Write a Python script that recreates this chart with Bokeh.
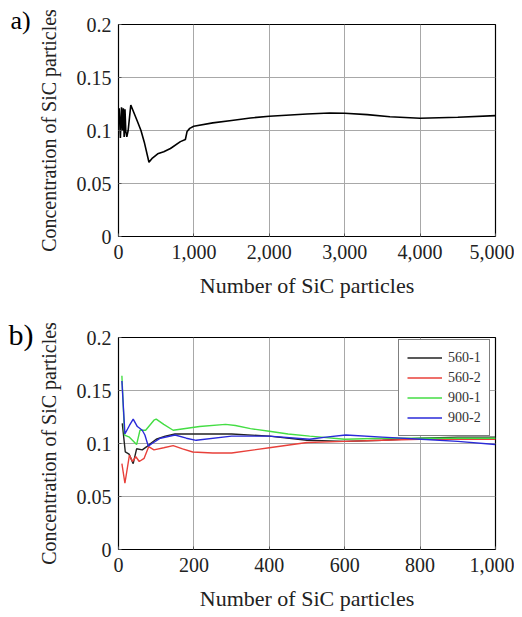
from bokeh.plotting import figure
from bokeh.layouts import column
from bokeh.models import Legend, LegendItem, FixedTicker, Range1d, Title
from bokeh.embed import file_html
from bokeh.resources import INLINE

# ---- data (a) ----
a_x = [9, 25, 40, 53, 64, 75, 86, 97, 110, 128, 163, 254, 298, 342, 404, 450, 520,
       600, 689, 821, 887, 909, 945, 998, 1250, 1500, 1750, 2000, 2500, 2800, 3000,
       3300, 3600, 4000, 4500, 5000]
a_y = [0.121, 0.093, 0.122, 0.100, 0.121, 0.094, 0.120, 0.099, 0.094, 0.100, 0.124,
       0.108, 0.100, 0.089, 0.070, 0.074, 0.078, 0.080, 0.083, 0.0895, 0.0915, 0.099,
       0.102, 0.104, 0.1072, 0.1095, 0.1118, 0.1135, 0.1155, 0.1165, 0.1163, 0.115, 0.113,
       0.1115, 0.1125, 0.114]

# ---- data (b) ----
black_x = [10, 18, 28, 39, 48, 63, 75, 85, 100, 124, 150, 200, 300, 400, 500, 600, 700, 800, 900, 1000]
black_y = [0.119, 0.092, 0.090, 0.081, 0.095, 0.094, 0.097, 0.100, 0.104, 0.107, 0.109,
           0.109, 0.109, 0.107, 0.103, 0.102, 0.103, 0.105, 0.106, 0.106]
red_x = [9, 17, 29, 37, 46, 55, 68, 80, 94, 120, 145, 170, 197, 250, 300, 400, 500,
         600, 700, 800, 900, 1000]
red_y = [0.081, 0.0625, 0.089, 0.083, 0.0875, 0.083, 0.086, 0.097, 0.094, 0.096, 0.098,
         0.095, 0.092, 0.091, 0.091, 0.096, 0.101, 0.102, 0.103, 0.104, 0.104, 0.104]
green_x = [9, 16, 29, 48, 57, 72, 94, 100, 120, 145, 215, 284, 310, 350, 400, 450, 507,
           600, 700, 800, 900, 1000]
green_y = [0.164, 0.108, 0.106, 0.099, 0.1125, 0.1125, 0.122, 0.123, 0.118, 0.1125,
           0.116, 0.118, 0.117, 0.114, 0.1115, 0.109, 0.107, 0.104, 0.105, 0.105, 0.105, 0.105]
blue_x = [9, 17, 29, 39, 50, 63, 70, 79, 89, 111, 150, 180, 206, 300, 400, 507, 550,
          603, 700, 804, 900, 1000]
blue_y = [0.159, 0.109, 0.117, 0.123, 0.116, 0.1125, 0.108, 0.0975, 0.1, 0.105, 0.108,
          0.105, 0.103, 0.107, 0.107, 0.104, 0.106, 0.108, 0.106, 0.104, 0.102, 0.099]
series_names = ["560-1", "560-2", "900-1", "900-2"]
series_colors = ["#222222", "#e8403a", "#44dd44", "#2a2ad8"]

y_ticks = [0, 0.05, 0.1, 0.15, 0.2]
y_labels = ["0", "0.05", "0.1", "0.15", "0.2"]
a_ticks = [0, 1000, 2000, 3000, 4000, 5000]
a_labels = ["0", "1,000", "2,000", "3,000", "4,000", "5,000"]
b_ticks = [0, 200, 400, 600, 800, 1000]
b_labels = ["0", "200", "400", "600", "800", "1,000"]

x_title = "Number of SiC particles"
y_title = "Concentration of SiC particles"

FONT = "Liberation Serif"


def style(p, xt, xl):
    p.outline_line_color = "black"
    p.outline_line_width = 1.2
    p.background_fill_color = "white"
    p.border_fill_color = "white"
    for ax in (p.xaxis[0], p.yaxis[0]):
        ax.axis_line_color = None
        ax.major_tick_line_color = "#555555"
        ax.major_tick_in = 3
        ax.major_tick_out = 0
        ax.minor_tick_line_color = None
        ax.major_label_text_font = FONT
        ax.major_label_text_font_size = "20px"
        ax.major_label_text_color = "#222222"
        ax.axis_label_text_font = FONT
        ax.axis_label_text_font_style = "normal"
        ax.axis_label_text_color = "#222222"
    p.xaxis[0].axis_label_text_font_size = "22px"
    p.yaxis[0].axis_label_text_font_size = "20px"
    p.xaxis[0].ticker = FixedTicker(ticks=xt)
    p.xaxis[0].major_label_overrides = {t: l for t, l in zip(xt, xl)}
    p.yaxis[0].ticker = FixedTicker(ticks=y_ticks)
    p.yaxis[0].major_label_overrides = {t: l for t, l in zip(y_ticks, y_labels)}
    p.xaxis[0].axis_label = x_title
    p.yaxis[0].axis_label = y_title
    p.xaxis[0].major_label_standoff = 8
    p.yaxis[0].major_label_standoff = 7
    p.xaxis[0].axis_label_standoff = 11
    p.yaxis[0].axis_label_standoff = 14
    p.xgrid.grid_line_color = "#a8a8a8"
    p.ygrid.grid_line_color = "#a8a8a8"
    p.xgrid.grid_line_width = 1
    p.ygrid.grid_line_width = 1
    p.xgrid.ticker = FixedTicker(ticks=xt)
    p.ygrid.ticker = FixedTicker(ticks=y_ticks)


# ---- figure a ----
pa = figure(width=514, height=300, output_backend="svg", toolbar_location=None,
            x_range=Range1d(0, 5000), y_range=Range1d(0, 0.2),
            min_border_left=118, min_border_right=19, min_border_top=24,
            min_border_bottom=64)
style(pa, a_ticks, a_labels)
pa.line(a_x, a_y, line_color="black", line_width=1.6)
pa.add_layout(Title(text="a)", align="left", offset=-108, vertical_align="bottom",
                    standoff=-20, text_font=FONT, text_font_size="26px",
                    text_font_style="normal", text_color="black"), "above")

# ---- figure b ----
pb = figure(width=514, height=313, output_backend="svg", toolbar_location=None,
            x_range=Range1d(0, 1000), y_range=Range1d(0, 0.2),
            min_border_left=117, min_border_right=16, min_border_top=37,
            min_border_bottom=62)
style(pb, b_ticks, b_labels)
items = []
for name, col, xs, ys in zip(series_names, series_colors,
                             [black_x, red_x, green_x, blue_x],
                             [black_y, red_y, green_y, blue_y]):
    r = pb.line(xs, ys, line_color=col, line_width=1.4)
    items.append(LegendItem(label=name, renderers=[r]))
leg = Legend(items=items, location=(280, 113))
leg.border_line_color = "black"
leg.border_line_width = 1.5
leg.background_fill_alpha = 1
leg.label_text_font = FONT
leg.label_text_font_size = "14px"
leg.label_text_color = "#333333"
leg.glyph_width = 35
leg.glyph_height = 19
leg.label_height = 19
leg.label_standoff = 6
leg.spacing = 1
leg.padding = 8
leg.margin = 0
pb.add_layout(leg, "center")
pb.add_layout(Title(text="b)", align="left", offset=-110, vertical_align="bottom",
                    standoff=-26, text_font=FONT, text_font_size="30px",
                    text_font_style="normal", text_color="black"), "above")

layout = column(pa, pb, spacing=0)
open("out.html", "w").write(file_html(layout, INLINE))
